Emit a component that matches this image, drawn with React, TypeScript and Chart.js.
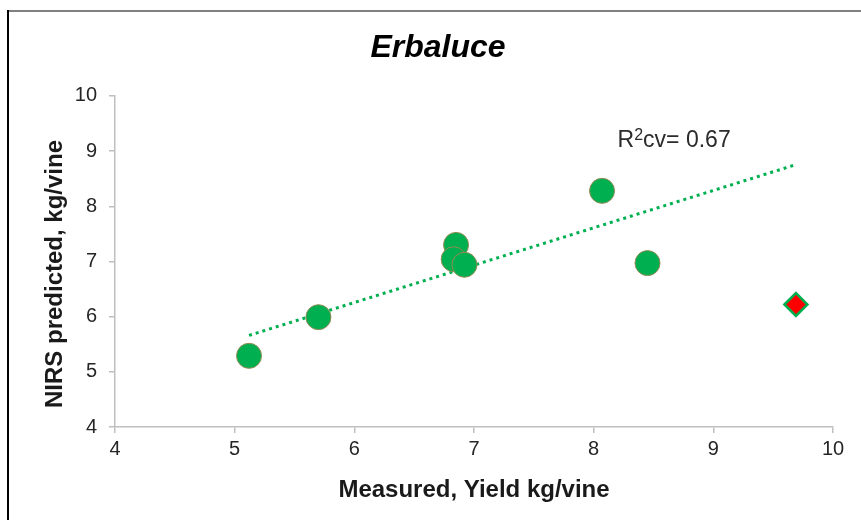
import { useEffect, useRef } from "react";
import { Chart, registerables } from "chart.js";

Chart.register(...registerables);

// ---- data ----
const measured = [5.12, 5.7, 6.85, 6.83, 6.92, 8.07, 8.45];
const predicted = [5.29, 5.99, 7.3, 7.04, 6.94, 8.28, 6.97];
const outlierMeasured = [9.69];
const outlierPredicted = [6.22];
const trendX = [5.12, 9.67];
const trendY = [5.66, 8.74];
const xTicks = [4, 5, 6, 7, 8, 9, 10];
const yTicks = [4, 5, 6, 7, 8, 9, 10];
const chartTitle = "Erbaluce";
const xTitle = "Measured, Yield kg/vine";
const yTitle = "NIRS predicted, kg/vine";
const r2Value = "0.67";
const r2Anchor = { x: 8.2, y: 9.08 };

const FONT = "'Liberation Sans', Arial, sans-serif";
const GREEN = "#00B050";

const decorPlugin = {
  id: "decor",
  afterDraw(chart: any) {
    const ctx = chart.ctx as CanvasRenderingContext2D;
    ctx.save();
    // frame lines
    ctx.fillStyle = "#808080";
    ctx.fillRect(7, 10, 854, 2);
    ctx.fillStyle = "#000000";
    ctx.fillRect(7, 10, 2, 510);

    // y axis title
    ctx.translate(55, 274);
    ctx.rotate(-Math.PI / 2);
    ctx.font = `bold 24px ${FONT}`;
    ctx.fillStyle = "#1a1a1a";
    ctx.textAlign = "center";
    ctx.textBaseline = "middle";
    ctx.fillText(yTitle, 0, 0);
    ctx.restore();

    // R² annotation
    const xs = chart.scales.x;
    const ys = chart.scales.y;
    let px = xs.getPixelForValue(r2Anchor.x);
    const py = ys.getPixelForValue(r2Anchor.y);
    ctx.save();
    ctx.fillStyle = "#2b2b2b";
    ctx.textAlign = "left";
    ctx.textBaseline = "alphabetic";
    ctx.font = `23px ${FONT}`;
    ctx.fillText("R", px, py);
    px += ctx.measureText("R").width;
    ctx.font = `16px ${FONT}`;
    ctx.fillText("2", px, py - 7);
    px += ctx.measureText("2").width;
    ctx.font = `23px ${FONT}`;
    ctx.fillText("cv= " + r2Value, px, py);
    ctx.restore();
  },
};

export default function App() {
  const ref = useRef<HTMLCanvasElement | null>(null);

  useEffect(() => {
    document.body.style.margin = "0";
    const canvas = ref.current;
    if (!canvas) return;
    Chart.defaults.font.family = FONT;

    const axisCommon = {
      type: "linear" as const,
      min: 4,
      max: 10,
      grid: {
        display: true,
        drawOnChartArea: false,
        drawTicks: true,
        tickLength: 6,
        color: "#bfbfbf",
        lineWidth: 1.5,
      },
      border: { display: true, color: "#bfbfbf", width: 1.5 },
    };

    const chart = new Chart(canvas, {
      type: "scatter",
      data: {
        datasets: [
          {
            label: "samples",
            data: measured.map((x, i) => ({ x, y: predicted[i] })),
            backgroundColor: GREEN,
            borderColor: "#948A54",
            borderWidth: 1,
            pointRadius: 12.5,
            pointHoverRadius: 12.5,
          },
          {
            label: "outlier",
            data: outlierMeasured.map((x, i) => ({ x, y: outlierPredicted[i] })),
            backgroundColor: "#FF0000",
            borderColor: GREEN,
            borderWidth: 2.5,
            pointStyle: "rectRot",
            pointRadius: 11.5,
            pointHoverRadius: 11.5,
          },
          {
            label: "trend",
            data: trendX.map((x, i) => ({ x, y: trendY[i] })),
            showLine: true,
            borderColor: GREEN,
            borderWidth: 3,
            borderDash: [3, 4],
            pointRadius: 0,
            pointHoverRadius: 0,
            fill: false,
          },
        ],
      },
      options: {
        responsive: false,
        animation: false,
        devicePixelRatio: 1,
        layout: { padding: { top: 0, left: 43, right: 28, bottom: 0 } },
        plugins: {
          legend: { display: false },
          tooltip: { enabled: false },
          title: {
            display: true,
            text: chartTitle,
            color: "#000000",
            font: { size: 32, weight: "bold", style: "italic", family: FONT },
            padding: { top: 29, bottom: 28.5 },
          },
        },
        scales: {
          x: {
            ...axisCommon,
            afterBuildTicks: (s: any) => {
              s.ticks = xTicks.map((v) => ({ value: v }));
            },
            afterFit: (s: any) => {
              s.height = 93;
            },
            ticks: { color: "#262626", font: { size: 20 }, padding: 4, maxRotation: 0 },
            title: {
              display: true,
              text: xTitle,
              color: "#1a1a1a",
              font: { size: 24, weight: "bold" },
              padding: { top: 0, bottom: 15.6 },
            },
          },
          y: {
            ...axisCommon,
            afterBuildTicks: (s: any) => {
              s.ticks = yTicks.map((v) => ({ value: v }));
            },
            afterFit: (s: any) => {
              s.width = 72;
            },
            ticks: { color: "#262626", font: { size: 20 }, padding: 12 },
          },
        },
      },
      plugins: [decorPlugin],
    } as any);

    return () => chart.destroy();
  }, []);

  return <canvas ref={ref} width={861} height={520} style={{ display: "block" }} />;
}
